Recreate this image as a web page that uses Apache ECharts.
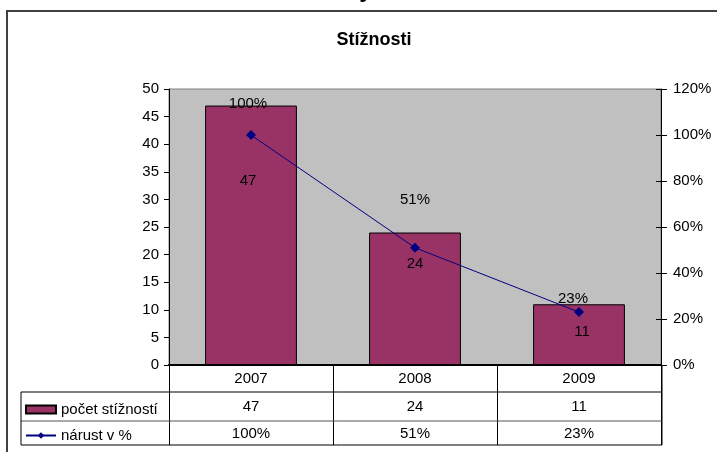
<!DOCTYPE html>
<html>
<head>
    <meta charset="utf-8">
    <title>Stížnosti</title>
    <script src="https://cdn.jsdelivr.net/npm/echarts@6/dist/echarts.min.js"></script>
    <style>
        html, body { margin: 0; padding: 0; background: #fff; }
        #mainChart { width: 717px; height: 452px; }
    </style>
</head>
<body>
<div id="mainChart"></div>
<script>
// data
const years = ['2007', '2008', '2009'];
const complaints = [47, 24, 11];
const growth = [1.00, 0.51, 0.23];
const countTicks = [0, 50, 5];
const pctTicks = [0, 1.2, 0.2];

const pct = v => Math.round(v * 100) + '%';
const FONT = 'Liberation Sans';
const FS = 15;

// labels were placed by hand in the original, nudge them the same way
const barLabelShift = [[-3, 6], [0, -25], [-6, 2]];
const lineLabelShift = [[-3, 33], [0, 4], [3, 7]];

const chart = echarts.init(document.getElementById('mainChart'));

const tableLine = (x1, y1, x2, y2, c) => ({
    type: 'line',
    shape: { x1: x1, y1: y1, x2: x2, y2: y2 },
    style: { stroke: c || '#000', lineWidth: 1 },
    z: 10
});

const option = {
    animation: false,
    textStyle: { fontFamily: FONT },
    title: {
        text: 'Stížnosti',
        left: 369,
        top: 26,
        textAlign: 'center',
        textStyle: { fontFamily: FONT, fontSize: 18, fontWeight: 'bold', color: '#000' }
    },
    legend: {
        data: [
            { name: 'počet stížností', icon: 'rect' },
            { name: 'nárust v %' }
        ],
        orient: 'vertical',
        left: 25,
        top: 402,
        padding: 0,
        itemWidth: 30,
        itemHeight: 8,
        itemGap: 11,
        textStyle: { fontFamily: FONT, fontSize: FS, color: '#000' }
    },
    grid: {
        left: 169,
        top: 89,
        width: 492,
        height: 276,
        show: true,
        backgroundColor: '#C0C0C0',
        borderColor: '#808080',
        borderWidth: 1
    },
    xAxis: {
        type: 'category',
        data: years,
        axisLine: { lineStyle: { color: '#000', width: 2 } },
        axisTick: { show: true, interval: 0, length: 80, lineStyle: { color: '#000' } },
        axisLabel: {
            interval: 0,
            margin: 0,
            color: '#000',
            formatter: (v, i) => `{y|${v}}\n{c|${complaints[i]}}\n{p|${pct(growth[i])}}`,
            rich: {
                y: { fontFamily: FONT, fontSize: FS, lineHeight: 27, color: '#000' },
                c: { fontFamily: FONT, fontSize: FS, lineHeight: 29, color: '#000' },
                p: { fontFamily: FONT, fontSize: FS, lineHeight: 25, color: '#000' }
            }
        },
        splitLine: { show: false }
    },
    yAxis: [
        {
            type: 'value',
            min: countTicks[0], max: countTicks[1], interval: countTicks[2],
            axisLine: { show: true, lineStyle: { color: '#000' } },
            axisTick: { show: true, length: 5, lineStyle: { color: '#000' } },
            axisLabel: { margin: 10, fontSize: FS, color: '#000' },
            splitLine: { show: false }
        },
        {
            type: 'value',
            position: 'right',
            min: pctTicks[0], max: pctTicks[1], interval: pctTicks[2],
            axisLine: { show: true, lineStyle: { color: '#000' } },
            axisTick: { show: true, length: 6, lineStyle: { color: '#000' } },
            axisLabel: { margin: 12, fontSize: FS, color: '#000', formatter: v => pct(v) },
            splitLine: { show: false }
        },
        {
            // inner half of the crossing ticks on the right axis
            type: 'value',
            position: 'right',
            min: pctTicks[0], max: pctTicks[1], interval: pctTicks[2],
            axisLine: { show: false },
            axisTick: { show: true, inside: true, length: 5, lineStyle: { color: '#000' } },
            axisLabel: { show: false },
            splitLine: { show: false }
        }
    ],
    series: [
        {
            name: 'počet stížností',
            type: 'bar',
            yAxisIndex: 0,
            barWidth: '56%',
            itemStyle: { color: '#993366', borderColor: '#000', borderWidth: 1 },
            label: {
                show: true,
                position: 'top',
                distance: 0,
                fontSize: FS,
                color: '#000',
                formatter: p => pct(growth[p.dataIndex])
            },
            data: complaints.map((v, i) => ({ value: v, label: { offset: barLabelShift[i] } }))
        },
        {
            name: 'nárust v %',
            type: 'line',
            yAxisIndex: 1,
            symbol: 'diamond',
            symbolSize: 10,
            lineStyle: { color: '#000080', width: 1 },
            itemStyle: { color: '#000080' },
            label: {
                show: true,
                position: 'bottom',
                distance: 0,
                fontSize: FS,
                color: '#000',
                formatter: p => complaints[p.dataIndex]
            },
            data: growth.map((v, i) => ({ value: v, label: { offset: lineLabelShift[i] } })),
            z: 5
        }
    ],
    graphic: [
        {
            type: 'text',
            style: { text: 'y', x: 366, y: -10, textAlign: 'center', textVerticalAlign: 'middle',
                     font: 'bold 24px Liberation Sans', fill: '#000' }
        },
        {
            type: 'rect',
            shape: { x: 7, y: 11, width: 740, height: 450 },
            style: { fill: 'none', stroke: '#404040', lineWidth: 2 }
        },
        tableLine(21, 392, 662, 392),
        tableLine(21, 421, 662, 421, '#555'),
        tableLine(21, 445, 662, 445),
        tableLine(21, 392, 21, 445),
        tableLine(662, 365, 662, 445)
    ]
};

chart.setOption(option);
</script>
</body>
</html>
